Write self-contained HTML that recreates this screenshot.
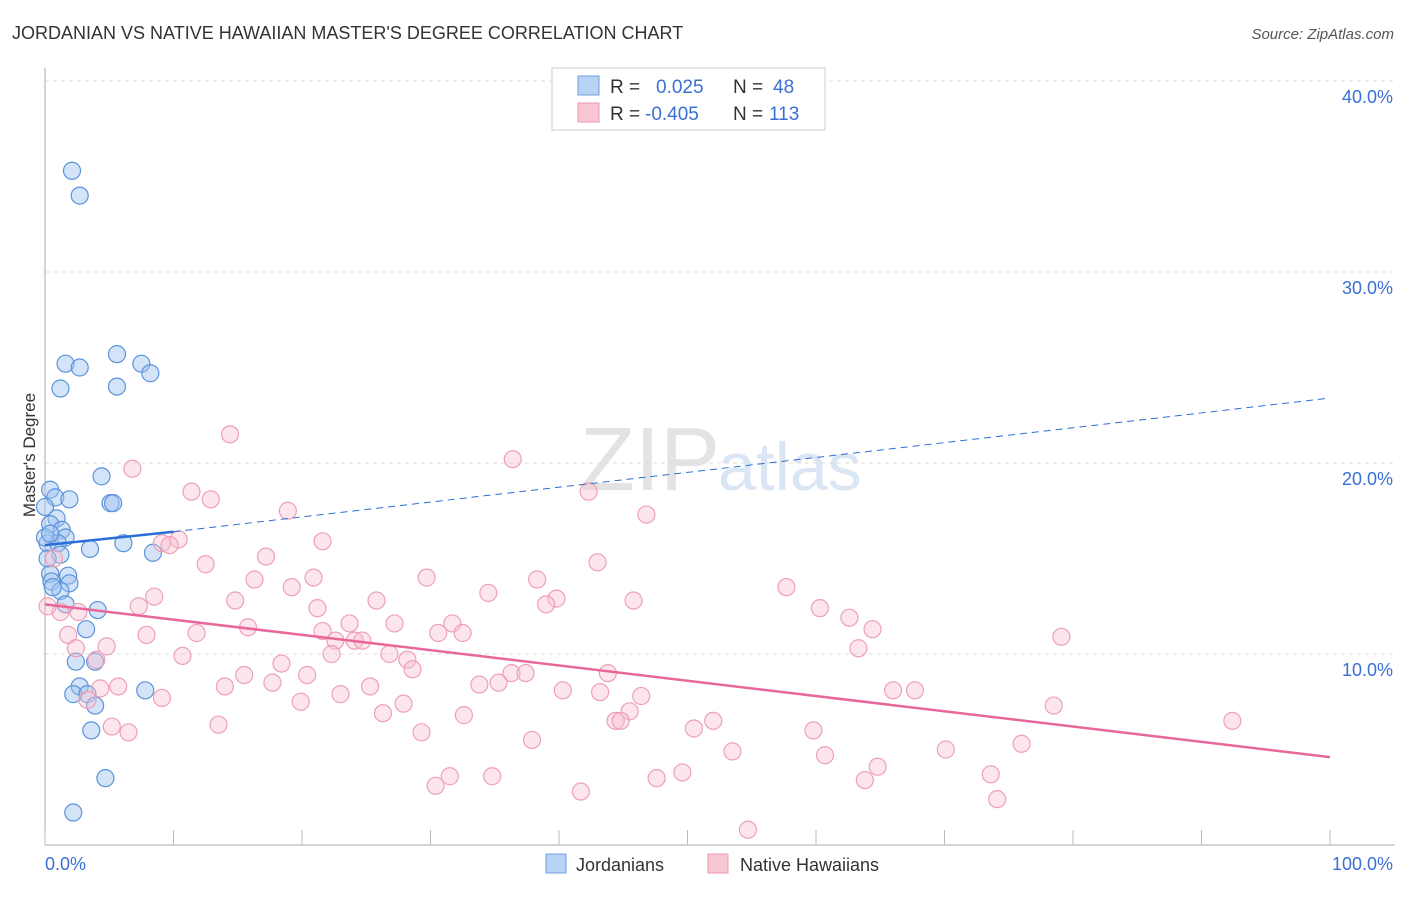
<!DOCTYPE html>
<html><head><meta charset="utf-8"><style>
body{margin:0;background:#fff;font-family:"Liberation Sans",sans-serif;}
svg text{font-family:"Liberation Sans",sans-serif;}
</style></head><body>
<svg id="chart" width="1406" height="892">
<text x="12" y="39" font-size="18" fill="#333">JORDANIAN VS NATIVE HAWAIIAN MASTER'S DEGREE CORRELATION CHART</text>
<text x="1394" y="39" font-size="15" fill="#555" text-anchor="end" font-style="italic">Source: ZipAtlas.com</text>
<text x="720" y="490" font-size="90" fill="#e3e3e3" text-anchor="end" font-family="Liberation Serif">ZIP</text>
<text x="718" y="490" font-size="68" fill="#dbe6f4">atlas</text>
<g id="grid"></g>
<g id="axes"></g>
<g id="pts"></g>
<g id="trends"></g>
<text x="35" y="455" font-size="17" fill="#333" text-anchor="middle" transform="rotate(-90 35 455)">Master's Degree</text>
<g>
<rect x="552" y="68" width="273" height="62" fill="#fff" stroke="#ccc"/>
<rect x="578" y="76" width="21" height="19" fill="#b9d3f5" stroke="#6f9fe0"/>
<rect x="578" y="103" width="21" height="19" fill="#f9c6d4" stroke="#ec98b2"/>
<text x="610" y="93" font-size="19" fill="#333">R =</text><text x="656" y="93" font-size="19" fill="#3a6fd8">0.025</text>
<text x="733" y="93" font-size="19" fill="#333">N =</text><text x="773" y="93" font-size="19" fill="#3a6fd8">48</text>
<text x="610" y="120" font-size="19" fill="#333">R =</text><text x="645" y="120" font-size="19" fill="#3a6fd8">-0.405</text>
<text x="733" y="120" font-size="19" fill="#333">N =</text><text x="769" y="120" font-size="19" fill="#3a6fd8">113</text>
</g>
<g>
<rect x="546" y="854" width="20" height="19" fill="#b9d3f5" stroke="#6f9fe0"/>
<text x="576" y="871" font-size="18" fill="#333">Jordanians</text>
<rect x="708" y="854" width="20" height="19" fill="#f9c6d4" stroke="#ec98b2"/>
<text x="740" y="871" font-size="18" fill="#333">Native Hawaiians</text>
</g>
<text x="45" y="870" font-size="18" fill="#3a6fd8">0.0%</text>
<text x="1393" y="870" font-size="18" fill="#3a6fd8" text-anchor="end">100.0%</text>
</svg>
<script>
const yTicks=[10,20,30,40];
const xTickVals=[0,10,20,30,40,50,60,70,80,90,100];
const blueX=[2.1,2.7,1.6,2.7,5.6,7.5,8.2,1.2,5.6,4.4,0.4,0.8,1.9,5.1,5.3,0,0.9,0.4,1.3,1.6,0.2,1,3.5,6.1,8.4,0.4,1.8,0.5,1.9,1.2,1.6,4.1,3.2,2.4,3.9,2.7,2.2,3.3,3.9,7.8,3.6,4.7,2.2,1.2,0,0.2,0.6,0.4];
const blueY=[35.3,34,25.2,25,25.7,25.2,24.7,23.9,24,19.3,18.6,18.2,18.1,17.9,17.9,17.7,17.1,16.8,16.5,16.1,15.8,15.8,15.5,15.8,15.3,14.2,14.1,13.8,13.7,13.3,12.6,12.3,11.3,9.6,9.6,8.3,7.9,7.9,7.3,8.1,6,3.5,1.7,15.2,16.1,15,13.5,16.3];
const pinkX=[14.4,36.4,6.8,11.4,12.9,42.3,18.9,46.8,10.4,21.6,9.1,9.7,17.2,43,12.5,29.7,16.3,20.9,38.3,57.7,19.2,34.5,8.5,25.8,14.8,45.8,7.3,21.2,39.8,39,60.3,62.6,1.2,0.2,2.6,27.2,31.7,15.8,23.7,64.4,21.6,32.5,30.6,79.1,11.8,7.9,1.8,24.1,24.7,22.6,4.8,2.4,63.3,26.8,10.7,22.3,28.2,4,43.8,18.4,28.6,36.3,37.4,15.5,20.4,17.7,25.3,33.8,35.3,14,40.3,43.2,46.4,66,67.7,4.3,5.7,3.3,9.1,23,19.9,27.9,78.5,45.5,26.3,32.6,52,92.4,13.5,44.4,44.8,5.2,6.5,50.5,59.8,29.3,37.9,76,70.1,53.5,60.7,64.8,49.6,31.5,34.8,47.6,63.8,73.6,30.4,41.7,74.1,54.7,0.7];
const pinkY=[21.5,20.2,19.7,18.5,18.1,18.5,17.5,17.3,16,15.9,15.8,15.7,15.1,14.8,14.7,14,13.9,14,13.9,13.5,13.5,13.2,13,12.8,12.8,12.8,12.5,12.4,12.9,12.6,12.4,11.9,12.2,12.5,12.2,11.6,11.6,11.4,11.6,11.3,11.2,11.1,11.1,10.9,11.1,11,11,10.7,10.7,10.7,10.4,10.3,10.3,10,9.9,10,9.7,9.7,9.0,9.5,9.2,9.0,9.0,8.9,8.9,8.5,8.3,8.4,8.5,8.3,8.1,8.0,7.8,8.1,8.1,8.2,8.3,7.6,7.7,7.9,7.5,7.4,7.3,7.0,6.9,6.8,6.5,6.5,6.3,6.5,6.5,6.2,5.9,6.1,6.0,5.9,5.5,5.3,5.0,4.9,4.7,4.1,3.8,3.6,3.6,3.5,3.4,3.7,3.1,2.8,2.4,0.8,15]; 
const X0=45,X1=1330,Y0=845,PY=19.1;
const sx=v=>X0+(X1-X0)*v/100, sy=v=>Y0-v*PY;
const NS='http://www.w3.org/2000/svg';
function mk(tag,attrs,parent){const e=document.createElementNS(NS,tag);for(const k in attrs)e.setAttribute(k,attrs[k]);parent.appendChild(e);return e;}
const grid=document.getElementById('grid'),axes=document.getElementById('axes'),pts=document.getElementById('pts'),tr=document.getElementById('trends');
yTicks.forEach(t=>{
 const l=mk('line',{x1:45,x2:1393,y1:sy(t),y2:sy(t),stroke:'#ddd','stroke-dasharray':'4,4'},grid);
 
 
 const tx=mk('text',{x:1393,y:sy(t)+22,'font-size':18,fill:'#3a6fd8','text-anchor':'end'},grid);
 tx.textContent=t.toFixed(1)+'%';
 
 
});
mk('line',{x1:45,x2:45,y1:68,y2:845,stroke:'#aaa'},axes);
mk('line',{x1:45,x2:1395,y1:845,y2:845,stroke:'#aaa'},axes);
xTickVals.forEach(t=>{const l=mk('line',{x1:sx(t),x2:sx(t),y1:830,y2:845,stroke:'#bbb'},axes);
 
 });
blueX.forEach((v,i)=>{const c=mk('circle',{cx:sx(v),cy:sy(blueY[i]),r:8.5,fill:'rgba(160,196,240,0.45)',stroke:'#5b93dc','stroke-width':1.2},pts);
 
 });
pinkX.forEach((v,i)=>{const c=mk('circle',{cx:sx(v),cy:sy(pinkY[i]),r:8.5,fill:'rgba(248,190,208,0.4)',stroke:'#eea0b8','stroke-width':1.2},pts);
 
 });
let l=mk('line',{x1:sx(0),y1:sy(15.7),x2:sx(10),y2:sy(16.4),stroke:'#2b6fd6','stroke-width':2.5},tr);

l=mk('line',{x1:sx(10),y1:sy(16.4),x2:sx(100),y2:sy(23.4),stroke:'#2b6fd6','stroke-width':1,'stroke-dasharray':'7,5'},tr);

l=mk('line',{x1:sx(0),y1:sy(12.6),x2:sx(100),y2:sy(4.6),stroke:'#e8679a','stroke-width':2.5},tr);

</script>
</body></html>
